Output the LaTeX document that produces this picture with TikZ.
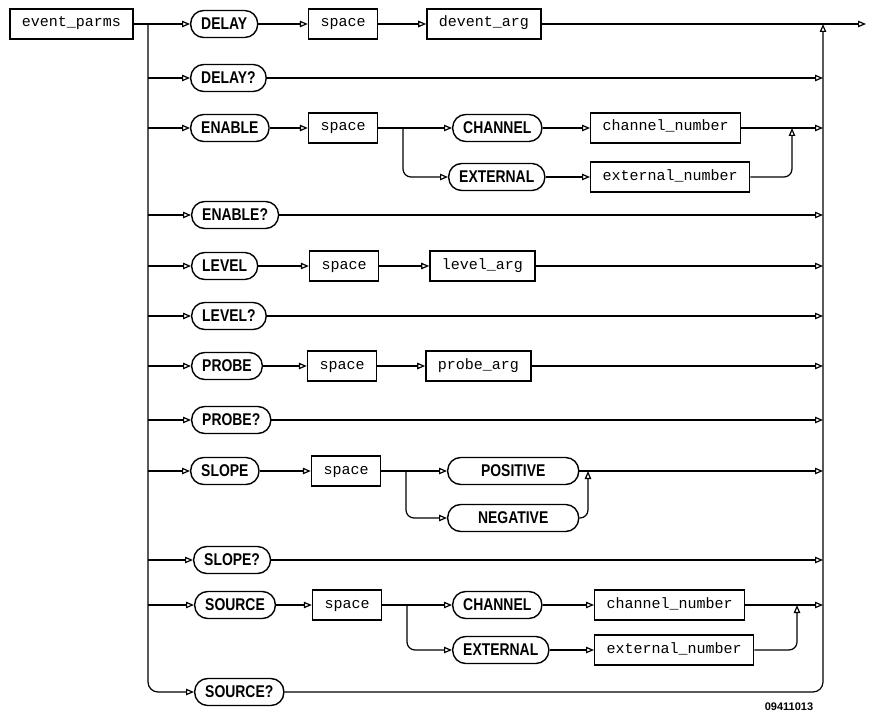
\documentclass[tikz,border=0pt]{standalone}
\usepackage{fontspec}
\setmainfont{Liberation Sans}
\newfontfamily\kwfont{Liberation Sans}[FakeStretch=0.82]
\newfontfamily\argfont{Liberation Mono}
\usepackage{tikz}
\usetikzlibrary{positioning,arrows.meta}

\begin{document}
\begin{tikzpicture}[
  x=1pt, y=-1pt,
  kw/.style={
    draw, line width=1.4pt, rounded corners=13pt,
    minimum height=27pt, inner xsep=10.5pt,
    font=\kwfont\bfseries\fontsize{17}{20}\selectfont
  },
  arg/.style={
    draw, line width=1.4pt,
    minimum height=30pt, inner xsep=12pt,
    text height=9pt, text depth=3pt,
    font=\argfont\fontsize{15}{18}\selectfont
  },
  link/.style={-{Triangle[open,length=8pt,width=6.5pt]}, line width=1.2pt}
]
\useasboundingbox (0,0) rectangle (869,714);

\node[arg] (evp) at (71.5,24) {event\_parms};

% keyword column
\node[kw, anchor=west] (dly)  at (190,24)  {DELAY};
\node[kw, anchor=west] (dlyq) at (190,78)  {DELAY?};
\node[kw, anchor=west] (ena)  at (190,128) {ENABLE};
\node[kw, anchor=west] (enaq) at (191,215) {ENABLE?};
\node[kw, anchor=west] (lvl)  at (191,266) {LEVEL};
\node[kw, anchor=west] (lvlq) at (191,316) {LEVEL?};
\node[kw, anchor=west] (prb)  at (191,366) {PROBE};
\node[kw, anchor=west] (prbq) at (191,420) {PROBE?};
\node[kw, anchor=west] (slp)  at (190,471) {SLOPE};
\node[kw, anchor=west] (slpq) at (193,560) {SLOPE?};
\node[kw, anchor=west] (src)  at (194,605) {SOURCE};
\node[kw, anchor=west] (srcq) at (194,692) {SOURCE?};

% space and arguments
\node[arg] (dsp) at (343,24)  {space};
\node[arg] (esp) at (343,128) {space};
\node[arg] (lsp) at (344,266) {space};
\node[arg] (psp) at (342,366) {space};
\node[arg] (ssp) at (346,471) {space};
\node[arg] (rsp) at (347,605) {space};

\node[arg] (darg) [right=48pt of dsp] {devent\_arg};
\node[arg] (larg) [right=50pt of lsp] {level\_arg};
\node[arg] (parg) [right=48pt of psp] {probe\_arg};

% ENABLE choices
\node[kw, anchor=west]  (chan1)   at (452,128) {CHANNEL};
\node[kw, anchor=west]  (ext1)    at (448,177) {EXTERNAL};
\node[arg, anchor=west] (chnum1)  at (590,128) {channel\_number};
\node[arg, anchor=west] (extnum1) at (590,177) {external\_number};

% SLOPE choices
\node[kw, anchor=west, minimum width=131pt] (pos) at (447,471) {POSITIVE};
\node[kw, anchor=west, minimum width=131pt] (neg) at (447,518) {NEGATIVE};

% SOURCE choices
\node[kw, anchor=west]  (chan2)   at (452,605) {CHANNEL};
\node[kw, anchor=west]  (ext2)    at (452,650) {EXTERNAL};
\node[arg, anchor=west] (chnum2)  at (594,605) {channel\_number};
\node[arg, anchor=west] (extnum2) at (594,650) {external\_number};

\node (figid) at (789,707) {\bfseries\fontsize{11}{13}\selectfont 09411013};

\coordinate (ltop) at (148,24);
\coordinate (rt) at (823,24);
\coordinate (exit) at (866,24);
\coordinate (j1) at (403,128);
\coordinate (m1) at (792,128);
\coordinate (j2) at (406,471);
\coordinate (m2) at (588,471);
\coordinate (j3) at (407,605);
\coordinate (m3) at (797,605);

% left trunk
\draw[link] (evp) -- (dly);
\draw[link, rounded corners=10pt] (ltop) |- (srcq);
\draw[link] (dlyq -| ltop) -- (dlyq);
\draw[link] (ena -| ltop) -- (ena);
\draw[link] (enaq -| ltop) -- (enaq);
\draw[link] (lvl -| ltop) -- (lvl);
\draw[link] (lvlq -| ltop) -- (lvlq);
\draw[link] (prb -| ltop) -- (prb);
\draw[link] (prbq -| ltop) -- (prbq);
\draw[link] (slp -| ltop) -- (slp);
\draw[link] (slpq -| ltop) -- (slpq);
\draw[link] (src -| ltop) -- (src);

% DELAY
\draw[link] (dly) -- (dsp);
\draw[link] (dsp) -- (darg);
\draw[link] (darg) -- (exit);

% ENABLE
\draw[link] (ena) -- (esp);
\draw[link] (esp) -- (chan1);
\draw[link, rounded corners=8pt] (j1) |- (ext1);
\draw[link] (chan1) -- (chnum1);
\draw[link] (ext1) -- (extnum1);
\draw[link, rounded corners=8pt] (extnum1) -| (m1);
\draw[link] (chnum1) -- (chnum1 -| rt);

% LEVEL, PROBE
\draw[link] (lvl) -- (lsp);
\draw[link] (lsp) -- (larg);
\draw[link] (prb) -- (psp);
\draw[link] (psp) -- (parg);

% SLOPE
\draw[link] (slp) -- (ssp);
\draw[link] (ssp) -- (pos);
\draw[link, rounded corners=8pt] (j2) |- (neg);
\draw[link, rounded corners=8pt] (neg) -| (m2);
\draw[link] (pos) -- (pos -| rt);

% SOURCE
\draw[link] (src) -- (rsp);
\draw[link] (rsp) -- (chan2);
\draw[link, rounded corners=8pt] (j3) |- (ext2);
\draw[link] (chan2) -- (chnum2);
\draw[link] (ext2) -- (extnum2);
\draw[link, rounded corners=8pt] (extnum2) -| (m3);
\draw[link] (chnum2) -- (chnum2 -| rt);

% right trunk
\draw[link] (dlyq) -- (dlyq -| rt);
\draw[link] (enaq) -- (enaq -| rt);
\draw[link] (larg) -- (larg -| rt);
\draw[link] (lvlq) -- (lvlq -| rt);
\draw[link] (parg) -- (parg -| rt);
\draw[link] (prbq) -- (prbq -| rt);
\draw[link] (slpq) -- (slpq -| rt);
\draw[link, rounded corners=10pt] (srcq) -| (rt);

\end{tikzpicture}
\end{document}
